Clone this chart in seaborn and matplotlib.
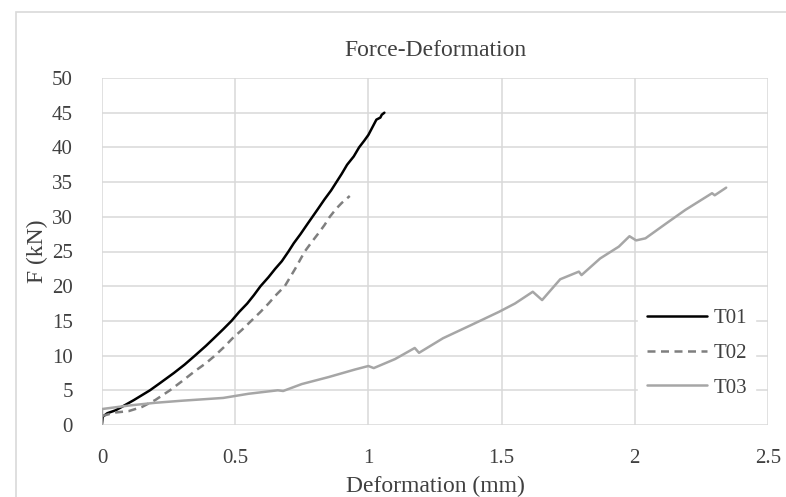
import matplotlib
matplotlib.use("Agg")
import matplotlib.pyplot as plt
import seaborn as sns
import pandas as pd
from matplotlib.patches import Rectangle

# ---- data ----
t01_x = [0.0, 0.003, 0.02, 0.05, 0.074, 0.12, 0.18, 0.22, 0.27, 0.31, 0.349, 0.39, 0.42, 0.455,
         0.486, 0.515, 0.545, 0.57, 0.595, 0.625, 0.65, 0.675, 0.70, 0.72, 0.745, 0.77, 0.79,
         0.81, 0.835, 0.86, 0.88, 0.9, 0.92, 0.945, 0.965, 0.985, 1.0, 1.015, 1.03, 1.045, 1.05, 1.06]
t01_y = [0.2, 1.2, 1.7, 2.1, 2.6, 3.6, 5.0, 6.1, 7.5, 8.7, 10.0, 11.4, 12.5, 13.8,
         15.0, 16.3, 17.5, 18.7, 20.0, 21.3, 22.5, 23.6, 25.0, 26.2, 27.5, 28.9, 30.0,
         31.1, 32.5, 33.8, 35.0, 36.2, 37.5, 38.7, 40.0, 41.0, 41.8, 42.9, 44.0, 44.3, 44.7, 45.0]

t02_x = [0.0, 0.05, 0.1, 0.15, 0.2, 0.255, 0.3, 0.35, 0.39, 0.424, 0.46, 0.49, 0.525, 0.56,
         0.595, 0.625, 0.655, 0.686, 0.725, 0.761, 0.79, 0.81, 0.835, 0.855, 0.88, 0.9, 0.93]
t02_y = [1.3, 1.8, 2.0, 2.6, 3.6, 5.0, 6.3, 7.8, 8.9, 10.0, 11.3, 12.5, 13.7, 15.0,
         16.3, 17.5, 18.8, 20.0, 22.5, 25.0, 26.5, 27.5, 28.8, 30.0, 31.2, 32.0, 33.0]

t03_x = [0.0, 0.0, 0.1, 0.2, 0.3, 0.455, 0.55, 0.66, 0.68, 0.75, 0.85, 0.95, 1.0, 1.02, 1.1,
         1.174, 1.19, 1.28, 1.38, 1.49, 1.55, 1.617, 1.652, 1.72, 1.79, 1.80, 1.87, 1.94,
         1.98, 2.005, 2.04, 2.12, 2.19, 2.29, 2.30, 2.343]
t03_y = [0.0, 2.3, 2.8, 3.2, 3.5, 3.9, 4.5, 5.0, 4.9, 5.9, 6.9, 8.0, 8.5, 8.2, 9.5,
         11.1, 10.4, 12.5, 14.3, 16.3, 17.5, 19.2, 18.0, 21.0, 22.1, 21.6, 24.0, 25.7,
         27.2, 26.6, 26.9, 29.1, 31.0, 33.4, 33.1, 34.2]

series_names = ["T01", "T02", "T03"]
x_ticks = [0, 0.5, 1, 1.5, 2, 2.5]
x_tick_labels = ["0", "0.5", "1", "1.5", "2", "2.5"]
y_ticks = [0, 5, 10, 15, 20, 25, 30, 35, 40, 45, 50]

df = pd.concat([
    pd.DataFrame({"x": t01_x, "y": t01_y, "s": "T01", "o": range(len(t01_x))}),
    pd.DataFrame({"x": t02_x, "y": t02_y, "s": "T02", "o": range(len(t02_x))}),
    pd.DataFrame({"x": t03_x, "y": t03_y, "s": "T03", "o": range(len(t03_x))}),
], ignore_index=True)

sns.set_theme(style="white")
plt.rcParams["font.family"] = ["Liberation Serif", "DejaVu Serif"]

fig = plt.figure(figsize=(7.86, 4.97), dpi=100)
ax = fig.add_axes([102/786, 1-425/497, 666/786, 347/497])

styles = {"T01": dict(color="#000000", ls="-", lw=1.8),
          "T02": dict(color="#7f7f7f", ls=(0, (3.2, 2.2)), lw=1.8),
          "T03": dict(color="#a6a6a6", ls="-", lw=1.8)}
for name in series_names:
    sub = df[df["s"] == name]
    sns.lineplot(data=sub, x="x", y="y", ax=ax, sort=False, estimator=None,
                 color=styles[name]["color"], linestyle=styles[name]["ls"],
                 linewidth=styles[name]["lw"], label=name, zorder=3)

ax.set_xlim(0, 2.5)
ax.set_ylim(0, 50)
ax.set_xticks(x_ticks)
ax.set_xticklabels(x_tick_labels)
ax.set_yticks(y_ticks)
ax.grid(True, color="#d9d9d9", linewidth=1.1)
for sp in ax.spines.values():
    sp.set_visible(False)
ax.tick_params(axis="both", length=0, labelsize=15, colors="#404040")
ax.tick_params(axis="x", pad=17)
ax.tick_params(axis="y", pad=21)
ax.set_xlabel("Deformation (mm)", fontsize=17, color="#404040", labelpad=6)
ax.set_ylabel("F (kN)", fontsize=17, color="#404040", labelpad=3)
ax.set_title("Force-Deformation", fontsize=17, color="#404040", pad=16)

leg = ax.legend(loc="center", bbox_to_anchor=(0.893, 0.207), fontsize=15,
                handlelength=2.9, handletextpad=0.3, labelspacing=0.72,
                frameon=True, framealpha=1, facecolor="white", edgecolor="white",
                borderpad=0.4)
for t in leg.get_texts():
    t.set_color("#404040")

fig.patches.append(Rectangle((16/786, -0.1), 1.2, 1 - 12/497 + 0.1, transform=fig.transFigure,
                             fill=False, edgecolor="#d9d9d9", linewidth=1.2))

fig.savefig("out.png", dpi=100)
